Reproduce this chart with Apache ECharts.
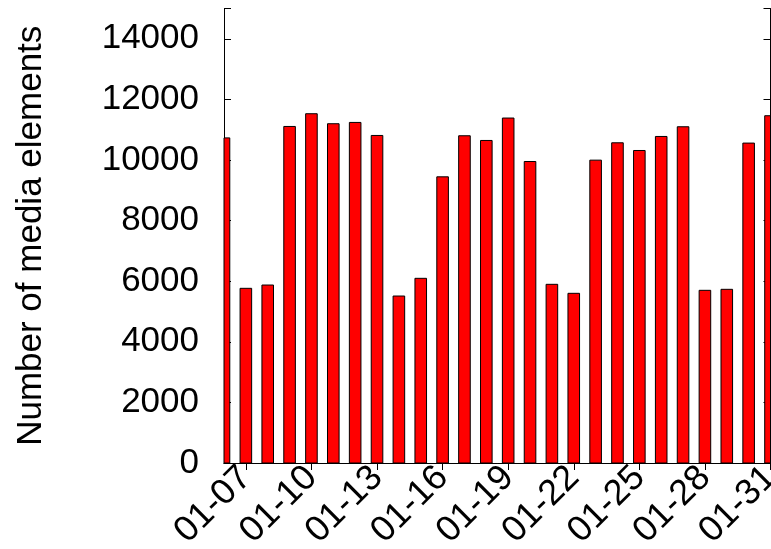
<!DOCTYPE html>
<html>
<head>
<meta charset="utf-8">
<script src="https://cdn.jsdelivr.net/npm/echarts@6/dist/echarts.min.js"></script>
<style>
html,body{margin:0;padding:0;background:#fff;overflow:hidden;}
#chart{width:771px;height:549px;}
</style>
</head>
<body>
<div id="chart"></div>
<script>
const categories = ['01-06','01-07','01-08','01-09','01-10','01-11','01-12','01-13','01-14','01-15','01-16','01-17','01-18','01-19','01-20','01-21','01-22','01-23','01-24','01-25','01-26','01-27','01-28','01-29','01-30','01-31'];
const mediaCounts = [10730,5765,5874,11107,11527,11197,11240,10810,5511,6095,9445,10800,10645,11385,9950,5897,5600,9995,10568,10314,10777,11097,5699,5732,10558,11461];
const yTicks = [0,2000,4000,6000,8000,10000,12000,14000];
const yTitle = 'Number of media elements';

const font = 'Liberation Sans, Arial, Helvetica, sans-serif';
const showEvery3 = (idx) => (idx - 1) % 3 === 0;
const barFraction = 0.53;

function renderBar(params, api) {
  const xi = api.value(0), v = api.value(1);
  const top = api.coord([xi, v]);
  const base = api.coord([xi, 0]);
  const bw = api.size([1, 0])[0] * barFraction;
  const rect = {x: top[0] - bw / 2, y: top[1], width: bw, height: base[1] - top[1]};
  const cs = params.coordSys;
  const clipped = echarts.graphic.clipRectByRect(rect, {x: cs.x, y: cs.y, width: cs.width, height: cs.height});
  if (!clipped) return null;
  return {type: 'rect', shape: clipped, style: {fill: '#ff0000', stroke: '#000', lineWidth: 1}};
}

const chart = echarts.init(document.getElementById('chart'), null, {renderer:'canvas'});
chart.setOption({
  animation:false,
  backgroundColor:'#fff',
  grid:{left:224, right:0.5, top:8.5, bottom:86, containLabel:false, outerBoundsMode:'none'},
  xAxis:[{
    type:'category', data:categories, boundaryGap:false, position:'bottom',
    axisLine:{show:true, lineStyle:{color:'#000', width:1}},
    axisTick:{show:true, inside:true, length:7, interval:showEvery3, lineStyle:{color:'#000'}},
    axisLabel:{show:true, interval:showEvery3, rotate:45, margin:9, color:'#000', fontSize:36, fontFamily:font},
    splitLine:{show:false}
  },{
    type:'category', data:categories, boundaryGap:false, position:'top',
    axisLine:{show:true, lineStyle:{color:'#000', width:1}},
    axisTick:{show:true, inside:true, length:7, interval:showEvery3, lineStyle:{color:'#000'}},
    axisLabel:{show:false}, splitLine:{show:false}
  }],
  yAxis:[{
    type:'value', min:0, max:15000, interval:2000, position:'left',
    name:yTitle, nameLocation:'middle', nameGap:175, nameRotate:90,
    nameTextStyle:{color:'#000', fontSize:35, fontFamily:font},
    axisLine:{show:true, lineStyle:{color:'#000', width:1}},
    axisTick:{show:true, inside:true, length:7, lineStyle:{color:'#000'}},
    axisLabel:{show:true, margin:25, color:'#000', fontSize:35, fontFamily:font,
      formatter:(v)=> yTicks.includes(v) ? String(v) : ''},
    splitLine:{show:false}
  },{
    type:'value', min:0, max:15000, interval:2000, position:'right',
    axisLine:{show:true, lineStyle:{color:'#000', width:1}},
    axisTick:{show:true, inside:true, length:7, lineStyle:{color:'#000'}},
    axisLabel:{show:false}, splitLine:{show:false}
  }],
  series:[{
    type:'custom', renderItem:renderBar, xAxisIndex:0, yAxisIndex:0,
    encode:{x:0, y:1},
    data: mediaCounts.map((v, i) => [i, v])
  }]
});
</script>
</body>
</html>
